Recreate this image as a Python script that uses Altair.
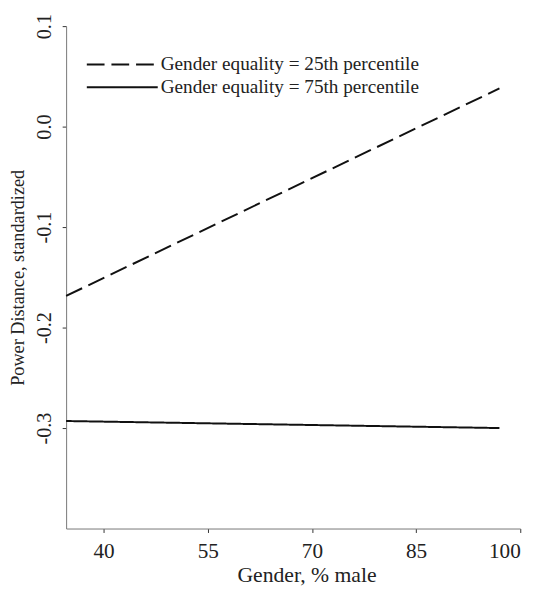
import altair as alt
import pandas as pd

# x values (Gender, % male) at both ends of each fitted line
x_vals = [34.6, 97.0]
series_names = ["Gender equality = 25th percentile", "Gender equality = 75th percentile"]
low_eq = [-0.1685, 0.038]    # 25th percentile (dashed)
high_eq = [-0.293, -0.300]   # 75th percentile (solid)

x_ticks = [40, 55, 70, 85, 100]
y_ticks = [-0.3, -0.2, -0.1, 0.0, 0.1]

rows = []
for name, vals in zip(series_names, [low_eq, high_eq]):
    for xv, yv in zip(x_vals, vals):
        rows.append({"gender": xv, "pd": yv, "series": name})
df = pd.DataFrame(rows)

FONT = "Liberation Serif"

chart = alt.Chart(df).mark_line(color="#111111", strokeWidth=2).encode(
    x=alt.X("gender:Q",
            scale=alt.Scale(domain=[34.6, 100], nice=False, zero=False),
            axis=alt.Axis(values=x_ticks, title="Gender, % male", grid=False,
                          tickSize=4, labelPadding=8, titlePadding=3,
                          titleX=244, titleAlign="center",
                          labelFontSize=21.5, titleFontSize=22)),
    y=alt.Y("pd:Q",
            scale=alt.Scale(domain=[-0.4, 0.1], nice=False, zero=False),
            axis=alt.Axis(values=y_ticks, title="Power Distance, standardized", grid=False,
                          tickSize=4, labelAngle=-90, labelAlign="center", labelBaseline="bottom",
                          labelPadding=8, labelFontSize=20.5, titleFontSize=18.5,
                          labelExpr="replace(format(datum.value, '.1f'), '\u2212', '-')",
                          titlePadding=7)),
    strokeDash=alt.StrokeDash("series:N",
            scale=alt.Scale(domain=series_names, range=[[18, 7], [1, 0]]),
            legend=alt.Legend(title=None, orient="none", legendX=44, legendY=26,
                              symbolType="M-3,0H3", symbolSize=576, symbolStrokeWidth=2,
                              symbolStrokeColor="#111111",
                              labelOffset=26, rowPadding=0,
                              labelFont=FONT, labelFontSize=19.5, labelColor="#222222",
                              labelLimit=400)),
    order=alt.Order("gender:Q"),
).properties(
    width=461, height=510,
    autosize="none",
    padding={"left": 59, "top": 14, "right": 18, "bottom": 58},
).configure_view(stroke=None).configure_axis(
    labelFont=FONT, labelColor="#222222",
    titleFont=FONT, titleFontWeight="normal", titleColor="#222222",
    domainColor="#777777", tickColor="#333333", domainWidth=1,
)

chart.save("out.html", embed_options={"renderer": "svg", "actions": False})
